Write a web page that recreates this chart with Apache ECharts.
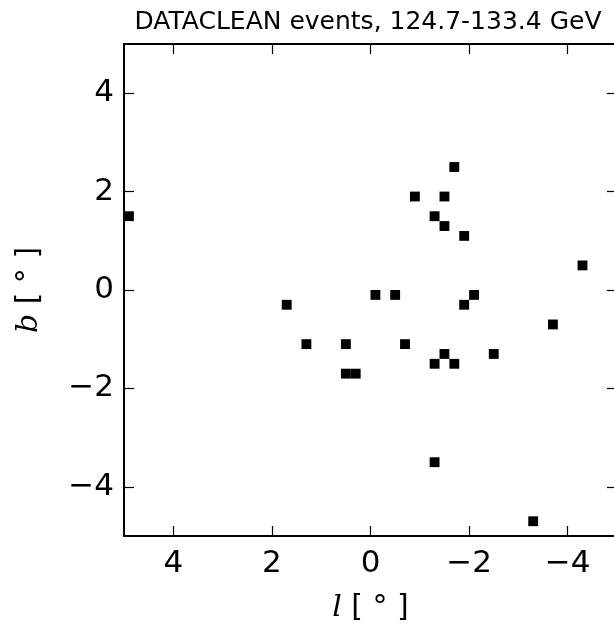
<!DOCTYPE html>
<html><head><meta charset="utf-8">
<script src="https://cdn.jsdelivr.net/npm/echarts@6/dist/echarts.min.js"></script>
<style>html,body{margin:0;padding:0;background:#fff}#c{width:614px;height:626px}</style>
</head><body><div id="c"></div>
<script>
// bin centres (degrees) of the DATACLEAN event map
const binL = [4.9, 1.7, 1.3, 0.5, 0.5, 0.3, -0.1, -0.5, -1.7, -0.9, -1.5, -1.3, -1.5, -1.9, -4.3, -2.1, -1.9, -3.7, -0.7, -1.5, -1.3, -1.7, -2.5, -1.3, -3.3];
const binB = [1.5, -0.3, -1.1, -1.1, -1.7, -1.7, -0.1, -0.1, 2.5, 1.9, 1.9, 1.5, 1.3, 1.1, 0.5, -0.1, -0.3, -0.7, -1.1, -1.3, -1.5, -1.5, -1.3, -3.5, -4.7];
const binSize = 0.2;
const tickValues = [-4, -2, 0, 2, 4];
const titleText = 'DATACLEAN events, 124.7-133.4 GeV';

const data = binL.map((l, i) => [l, binB[i]]);
const fmt = v => v < 0 ? '\u2212' + (-v) : String(v);
const FONT = 'DejaVu Sans';

function mkAxis(pos, isX, showLabel, showLine) {
  const ax = {
    type: 'value', min: -5, max: 5, position: pos,
    axisLine: { show: showLine, onZero: false, lineStyle: { color: '#000', width: 2 } },
    axisTick: { show: true, inside: true, length: 10, customValues: tickValues, lineStyle: { color: '#000', width: 1.2 } },
    axisLabel: { show: showLabel, customValues: tickValues, formatter: fmt, fontSize: 31, color: '#000', fontFamily: FONT, margin: isX ? 12 : 10 },
    splitLine: { show: false }
  };
  if (isX) ax.inverse = true;
  return ax;
}

const xMain = mkAxis('bottom', true, true, true);
xMain.name = '{i|l} [ ° ]';
xMain.nameLocation = 'middle';
xMain.nameGap = 57;
xMain.nameTextStyle = { fontSize: 30, color: '#000', fontFamily: FONT,
  rich: { i: { fontSize: 30, fontStyle: 'italic', fontFamily: 'DejaVu Serif', color: '#000' } } };

const yMain = mkAxis('left', false, true, true);
yMain.name = '{i|b} [ ° ]';
yMain.nameLocation = 'middle';
yMain.nameGap = 80;
yMain.nameRotate = 90;
yMain.nameTextStyle = { fontSize: 30, color: '#000', fontFamily: FONT,
  rich: { i: { fontSize: 30, fontStyle: 'italic', fontFamily: 'DejaVu Serif', color: '#000' } } };

const chart = echarts.init(document.getElementById('c'), null, { renderer: 'canvas' });
chart.setOption({
  backgroundColor: '#fff',
  animation: false,
  title: { text: titleText, left: 363, textAlign: 'center', top: 5,
    textStyle: { fontSize: 25, fontWeight: 'normal', color: '#000', fontFamily: FONT } },
  grid: { left: 124, width: 493, top: 44, height: 492, outerBoundsMode: 'none', containLabel: false },
  xAxis: [xMain, mkAxis('top', true, false, true)],
  yAxis: [yMain, mkAxis('right', false, false, false)],
  series: [{
    type: 'custom',
    xAxisIndex: 0, yAxisIndex: 0,
    clip: true,
    data: data,
    renderItem: function (params, api) {
      const l = api.value(0), b = api.value(1);
      const p1 = api.coord([l + binSize / 2, b + binSize / 2]);
      const p2 = api.coord([l - binSize / 2, b - binSize / 2]);
      return {
        type: 'rect',
        shape: { x: Math.min(p1[0], p2[0]), y: Math.min(p1[1], p2[1]),
                 width: Math.abs(p2[0] - p1[0]), height: Math.abs(p2[1] - p1[1]) },
        style: { fill: '#000' }
      };
    }
  }]
});
</script></body></html>
